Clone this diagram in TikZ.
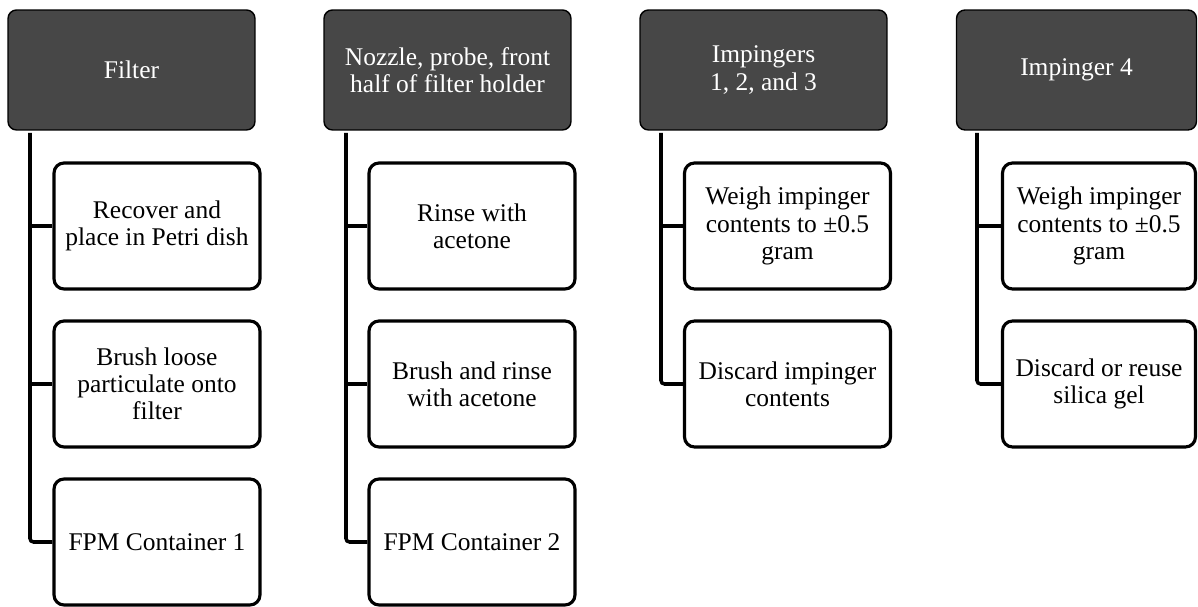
\documentclass[tikz,border=0pt]{standalone}
\usepackage{fontspec}
\setmainfont{Liberation Serif}
\begin{document}
\begin{tikzpicture}[x=0.02cm,y=-0.02cm,
  hdr/.style={draw=black, line width=0.8pt, fill=black!72, text=white,
    rounded corners=0.17cm, minimum width=4.94cm, minimum height=2.4cm,
    align=center, inner sep=2pt, font=\fontsize{14.5}{15.5}\selectfont},
  child/.style={draw=black, line width=1.8pt, fill=white, text=black,
    rounded corners=0.2cm, minimum width=4.12cm, minimum height=2.52cm,
    align=center, inner sep=2pt, font=\fontsize{14.5}{15.5}\selectfont},
  conn/.style={draw=black, line width=2pt, rounded corners=2pt},
  tick/.style={draw=black, line width=2pt}]
\useasboundingbox (0,0) rectangle (1198,607);

% Column 1
\node[hdr] (h1) at (131.5,70) {Filter};
\coordinate (t1) at (30,133);
\node[child] (c11) at (157,226) {Recover and\\place in Petri dish};
\node[child] (c12) at (157,384) {Brush loose\\particulate onto\\filter};
\node[child] (c13) at (157,542) {FPM Container 1};
\draw[conn] (t1) |- (c13.west);
\draw[tick] (c11.west -| t1) -- (c11.west);
\draw[tick] (c12.west -| t1) -- (c12.west);

% Column 2
\node[hdr] (h2) at (447.5,70) {Nozzle, probe, front\\half of filter holder};
\coordinate (t2) at (346,133);
\node[child] (c21) at (472,226) {Rinse with\\acetone};
\node[child] (c22) at (472,384) {Brush and rinse\\with acetone};
\node[child] (c23) at (472,542) {FPM Container 2};
\draw[conn] (t2) |- (c23.west);
\draw[tick] (c21.west -| t2) -- (c21.west);
\draw[tick] (c22.west -| t2) -- (c22.west);

% Column 3
\node[hdr] (h3) at (763.5,70) {Impingers\\1, 2, and 3};
\coordinate (t3) at (661,133);
\node[child] (c31) at (787.5,226) {Weigh impinger\\contents to ±0.5\\gram};
\node[child] (c32) at (787.5,384) {Discard impinger\\contents};
\draw[conn] (t3) |- (c32.west);
\draw[tick] (c31.west -| t3) -- (c31.west);

% Column 4
\node[hdr, minimum width=4.8cm] (h4) at (1076.5,70) {Impinger 4};
\coordinate (t4) at (977,133);
\node[child, minimum width=3.86cm] (c41) at (1099,226) {Weigh impinger\\contents to ±0.5\\gram};
\node[child, minimum width=3.86cm] (c42) at (1099,384) {Discard or reuse\\silica gel};
\draw[conn] (t4) |- (c42.west);
\draw[tick] (c41.west -| t4) -- (c41.west);
\end{tikzpicture}
\end{document}
